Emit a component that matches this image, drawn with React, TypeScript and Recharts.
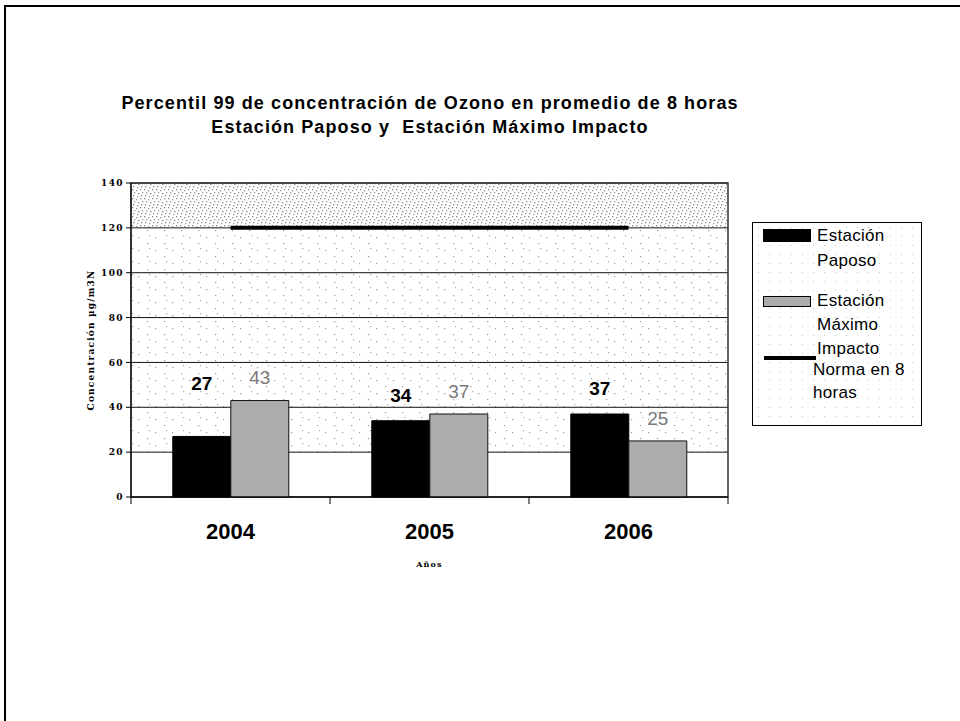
import {
  Bar,
  CartesianGrid,
  ComposedChart,
  LabelList,
  Line,
  ReferenceArea,
  XAxis,
  YAxis,
} from "recharts";

const YEARS = ["2004", "2005", "2006"];
const PAPOSO = [27, 34, 37];
const MAXIMO = [43, 37, 25];
const NORMA = [120, 120, 120];
const Y_TICKS = [0, 20, 40, 60, 80, 100, 120, 140];

const data = YEARS.map((year, i) => ({
  year,
  paposo: PAPOSO[i],
  maximo: MAXIMO[i],
  norma: NORMA[i],
}));

// en el original la etiqueta de 2004 quedó más arriba
const PAPOSO_LIFT = [53, 25, 26];
const MAXIMO_LIFT = [23, 23, 23];

const FONT = "'Liberation Sans', Arial, sans-serif";
const SERIF = "'DejaVu Serif', 'Liberation Serif', serif";
const GRAY_BAR = "#acacac";
const X_TICK_MARGIN = 26;

// franjas del fondo, de arriba (120-140) hacia abajo (0-20)
const BAND_FILLS = [
  "url(#dense)",
  "url(#sparse)",
  "url(#sparse)",
  "url(#sparse)",
  "url(#sparse)",
  "url(#sparse)",
  "#fff",
  "#fff",
];

function barLabel(lift: number[], color: string, weight: string) {
  return (p: any) => {
    const { x, y, width, value, index } = p;
    return (
      <text
        x={x + width / 2}
        y={y - lift[index]}
        dy="0.35em"
        textAnchor="middle"
        fontFamily={FONT}
        fontSize={19}
        fontWeight={weight}
        fill={color}
      >
        {value}
      </text>
    );
  };
}

// etiqueta del año + marca entre categorías (como en Excel)
function YearTick(p: any) {
  const { x, y, payload, index, visibleTicksCount, width } = p;
  const half = payload.offset || width / visibleTicksCount / 2;
  const axisY = y - X_TICK_MARGIN;
  const last = index === visibleTicksCount - 1;
  return (
    <g>
      <line x1={x - half} x2={x - half} y1={axisY} y2={axisY + 7} stroke="#000" />
      {last && <line x1={x + half} x2={x + half} y1={axisY} y2={axisY + 7} stroke="#000" />}
      <text
        x={x}
        y={y}
        dy="0.71em"
        textAnchor="middle"
        fontFamily={FONT}
        fontSize={22}
        fontWeight="bold"
        fill="#000"
      >
        {payload.value}
      </text>
    </g>
  );
}

function LegendBox() {
  const text: React.CSSProperties = {
    position: "absolute",
    left: 64,
    fontFamily: FONT,
    fontSize: 17,
    lineHeight: "25px",
    color: "#000",
    letterSpacing: 0.3,
  };
  return (
    <div
      style={{
        position: "absolute",
        left: 752,
        top: 222,
        width: 168,
        height: 202,
        border: "1px solid #000",
        background: "#fff",
        backgroundImage: "radial-gradient(#c4c4c4 0.7px, transparent 1px)",
        backgroundSize: "11px 9px",
      }}
    >
      <div style={{ position: "absolute", left: 10, top: 6, width: 48, height: 13, background: "#000" }} />
      <div style={{ ...text, top: 0 }}>Estación<br />Paposo</div>
      <div
        style={{
          position: "absolute",
          left: 10,
          top: 73,
          width: 46,
          height: 9,
          background: GRAY_BAR,
          border: "1px solid #000",
        }}
      />
      <div style={{ ...text, top: 66, lineHeight: "24px" }}>Estación<br />Máximo<br />Impacto</div>
      <div style={{ position: "absolute", left: 11, top: 133, width: 52, height: 4, background: "#000" }} />
      <div style={{ ...text, top: 135, left: 60, lineHeight: "23px" }}>Norma en 8<br />horas</div>
    </div>
  );
}

export default function App() {
  return (
    <div
      style={{
        position: "absolute",
        left: 0,
        top: 0,
        width: 960,
        height: 721,
        background: "#fff",
        overflow: "hidden",
      }}
    >
      <div
        style={{
          position: "absolute",
          left: 4,
          top: 5,
          width: 980,
          height: 760,
          borderTop: "2px solid #000",
          borderLeft: "2px solid #000",
        }}
      />
      <div
        style={{
          position: "absolute",
          left: 0,
          top: 91,
          width: 860,
          textAlign: "center",
          fontFamily: FONT,
          fontWeight: "bold",
          fontSize: 18,
          letterSpacing: 1.1,
          lineHeight: "24px",
          color: "#000",
        }}
      >
        Percentil 99 de concentración de Ozono en promedio de 8 horas
        <br />
        Estación Paposo y&nbsp; Estación Máximo Impacto
      </div>

      <div style={{ position: "absolute", left: 0, top: 0 }}>
        <ComposedChart
          width={960}
          height={721}
          data={data}
          margin={{ top: 183, right: 232, bottom: 184, left: 81 }}
          barCategoryGap="21%"
          barGap={0}
        >
          <defs>
            <pattern id="dense" width="12" height="9" patternUnits="userSpaceOnUse">
              <rect width="12" height="9" fill="#fff" />
              <rect x="0" y="0" width="1.3" height="1.3" fill="#888" />
              <rect x="4" y="1" width="1.3" height="1.3" fill="#999" />
              <rect x="8" y="0" width="1.3" height="1.3" fill="#888" />
              <rect x="2" y="3" width="1.3" height="1.3" fill="#999" />
              <rect x="6" y="4" width="1.3" height="1.3" fill="#888" />
              <rect x="10" y="3" width="1.3" height="1.3" fill="#999" />
              <rect x="1" y="6" width="1.3" height="1.3" fill="#888" />
              <rect x="5" y="7" width="1.3" height="1.3" fill="#999" />
              <rect x="9" y="6" width="1.3" height="1.3" fill="#888" />
            </pattern>
            <pattern id="sparse" width="17" height="13" patternUnits="userSpaceOnUse">
              <rect width="17" height="13" fill="#fff" />
              <rect x="2" y="3" width="1.2" height="1.2" fill="#999" />
              <rect x="11" y="9" width="1.2" height="1.2" fill="#999" />
              <rect x="13" y="1" width="1.2" height="1.2" fill="#aaa" />
            </pattern>
          </defs>
          <CartesianGrid
            vertical={false}
            stroke="#111"
            strokeOpacity={1}
            horizontalFill={BAND_FILLS}
            fillOpacity={1}
          />
          <XAxis
            dataKey="year"
            height={40}
            tickLine={false}
            tickSize={0}
            tickMargin={X_TICK_MARGIN}
            axisLine={{ stroke: "#000" }}
            tick={YearTick}
            label={{
              value: "Años",
              position: "bottom",
              offset: 24,
              style: { fontFamily: SERIF, fontSize: 8, fontWeight: "bold", fill: "#000", letterSpacing: 1.2 },
            }}
          />
          <YAxis
            domain={[0, 140]}
            ticks={Y_TICKS}
            width={50}
            tickSize={5}
            tickLine={{ stroke: "#000" }}
            axisLine={{ stroke: "#000" }}
            tick={{ fontFamily: SERIF, fontSize: 9, fontWeight: "bold", fill: "#000", letterSpacing: 1.4 }}
            label={{
              value: "Concentración µg/m3N",
              angle: -90,
              position: "insideLeft",
              offset: 10,
              style: {
                textAnchor: "middle",
                fontFamily: SERIF,
                fontSize: 9,
                fontWeight: "bold",
                fill: "#000",
                letterSpacing: 1.2,
              },
            }}
          />
          <Bar dataKey="paposo" fill="#000" stroke="#000" isAnimationActive={false}>
            <LabelList dataKey="paposo" content={barLabel(PAPOSO_LIFT, "#000", "bold")} />
          </Bar>
          <Bar dataKey="maximo" fill={GRAY_BAR} stroke="#111" isAnimationActive={false}>
            <LabelList dataKey="maximo" content={barLabel(MAXIMO_LIFT, "#7a7a7a", "normal")} />
          </Bar>
          <Line
            dataKey="norma"
            stroke="#000"
            strokeWidth={4}
            dot={false}
            isAnimationActive={false}
          />
          <ReferenceArea y1={0} y2={140} fill="none" stroke="#333" strokeWidth={1.5} />
        </ComposedChart>
      </div>
      <LegendBox />
    </div>
  );
}
